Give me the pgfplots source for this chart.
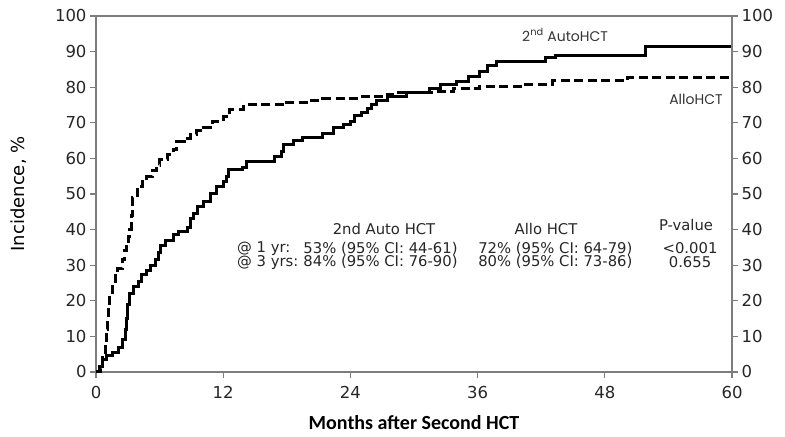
\documentclass[border=0pt]{standalone}
\usepackage{fontspec}
\setmainfont{DejaVu Sans}
\newfontfamily\carlito{Carlito}
\newfontfamily\pop{Poppins}
\usepackage{pgfplots}
\pgfplotsset{compat=1.18}
\definecolor{framegray}{RGB}{125,125,125}

\pgfplotstableread{
x y
0 0
0.3 1.5
0.6 3.5
1.0 4.5
1.6 5.5
2.1 7
2.5 9
2.8 12
2.9 15
3.0 19
3.2 22
3.5 24
4.0 25.5
4.3 27.5
4.8 28.5
5.1 30
5.6 31.5
5.9 33.5
6.1 35.5
6.6 37
7.3 38.5
7.8 39.5
8.6 40.5
8.9 43
9.2 44.5
9.6 46.5
10.1 48
10.8 50
11.4 52
12.0 53.5
12.3 55
12.5 57
13.8 57.5
14.2 59
16.8 60.5
17.5 62
17.7 64
18.6 65
19.5 66
21.4 67
22.4 68.6
23.3 69.5
24.0 70.3
24.4 72
25.0 73
25.6 74
26.0 75
26.5 76.3
27.5 77.5
29.3 78.6
31.5 79.6
32.5 80.7
34.0 81.5
35.1 83
36.2 84.5
36.9 86
37.8 87.2
42.4 88.3
43.3 89
51.8 91.5
60 91.5
}\autohct

\pgfplotstableread{
x y
0 0
0.4 1
0.6 4
0.85 8
1.0 12
1.1 15
1.2 18
1.3 21
1.6 24
1.8 27
2.0 29
2.5 31.5
2.7 34
2.9 36
3.1 38
3.2 40
3.3 44
3.4 49
3.9 52
4.4 53.5
4.8 55
5.3 56.5
5.7 58
6.0 59.7
6.7 61
7.3 62.5
7.6 64.7
8.3 65.7
8.9 66.7
9.5 67.7
10.1 68.6
11.0 70.3
12.0 71.7
12.6 73.7
13.9 75
17.6 75
18.0 75.8
19.9 76.3
21.4 76.8
24.9 77.3
27.5 78
28.4 78.5
31.8 78.8
33.7 79.6
36.2 80.2
40.3 80.7
43.1 81.8
50.1 82.6
60 82.6
}\allohct

\begin{document}
\begin{tikzpicture}
\begin{axis}[
  scale only axis, width=636pt, height=356pt,
  xmin=0, xmax=60, ymin=0, ymax=100,
  xtick={0,12,...,60}, ytick={0,10,...,100},
  tick align=outside, xtick pos=bottom, ytick pos=left,
  major tick length=6pt,
  axis line style={framegray, line width=1.2pt},
  every tick/.style={framegray, line width=1.2pt},
  tick label style={font=\fontsize{16.5}{18}\selectfont, text=black!85},
  xticklabel style={yshift=-5pt},
  /pgf/number format/assume math mode=true,
  xlabel={\carlito\bfseries Months after Second HCT},
  xlabel style={font=\fontsize{20}{22}\selectfont, at={(axis description cs:0.5,-0.143)}, anchor=center},
  ylabel={Incidence, \%},
  ylabel style={font=\fontsize{18}{20}\selectfont, at={(axis description cs:-0.122,0.5)}, anchor=center},
  clip=false,
]
\path (rel axis cs:-0.151,-0.1826) rectangle (rel axis cs:1.0833,1.0449);
\addplot[const plot, black, line width=3pt] table {\autohct};
\addplot[const plot, black, line width=3pt, dash pattern=on 9pt off 4.5pt] table {\allohct};
\node[font=\pop\fontsize{14}{15}\selectfont, text=black!80] at (axis cs:44.25,94.7) {2\textsuperscript{nd} AutoHCT};
\node[font=\pop\fontsize{14}{15}\selectfont, text=black!80] at (axis cs:56.6,76.5) {AlloHCT};
\begin{scope}[every node/.style={font=\fontsize{14.8}{15}\selectfont, text=black!85, inner sep=0pt}]
\node at (axis cs:27.17,40.3) {2nd Auto HCT};
\node at (axis cs:42.45,40.3) {Allo HCT};
\node at (axis cs:55.66,41.2) {P-value};
\node[anchor=west] at (axis cs:13.3,34.7) {@ 1 yr:};
\node[anchor=west] at (axis cs:13.3,30.8) {@ 3 yrs:};
\node[anchor=west] at (axis cs:19.55,34.7) {53\% (95\% CI: 44-61)};
\node[anchor=west] at (axis cs:19.55,30.8) {84\% (95\% CI: 76-90)};
\node[anchor=west] at (axis cs:36.04,34.7) {72\% (95\% CI: 64-79)};
\node[anchor=west] at (axis cs:36.04,30.8) {80\% (95\% CI: 73-86)};
\node at (axis cs:56.04,34.7) {<0.001};
\node at (axis cs:56.04,30.8) {0.655};
\end{scope}
\end{axis}
\begin{axis}[
  scale only axis, width=636pt, height=356pt,
  xmin=0, xmax=60, ymin=0, ymax=100,
  axis x line=none, axis y line*=right,
  ytick={0,10,...,100},
  tick align=outside, major tick length=6pt,
  axis line style={framegray, line width=1.2pt, -},
  every tick/.style={framegray, line width=1.2pt},
  tick label style={font=\fontsize{16.5}{18}\selectfont, text=black!85},
  /pgf/number format/assume math mode=true,
]
\end{axis}
\end{tikzpicture}
\end{document}
